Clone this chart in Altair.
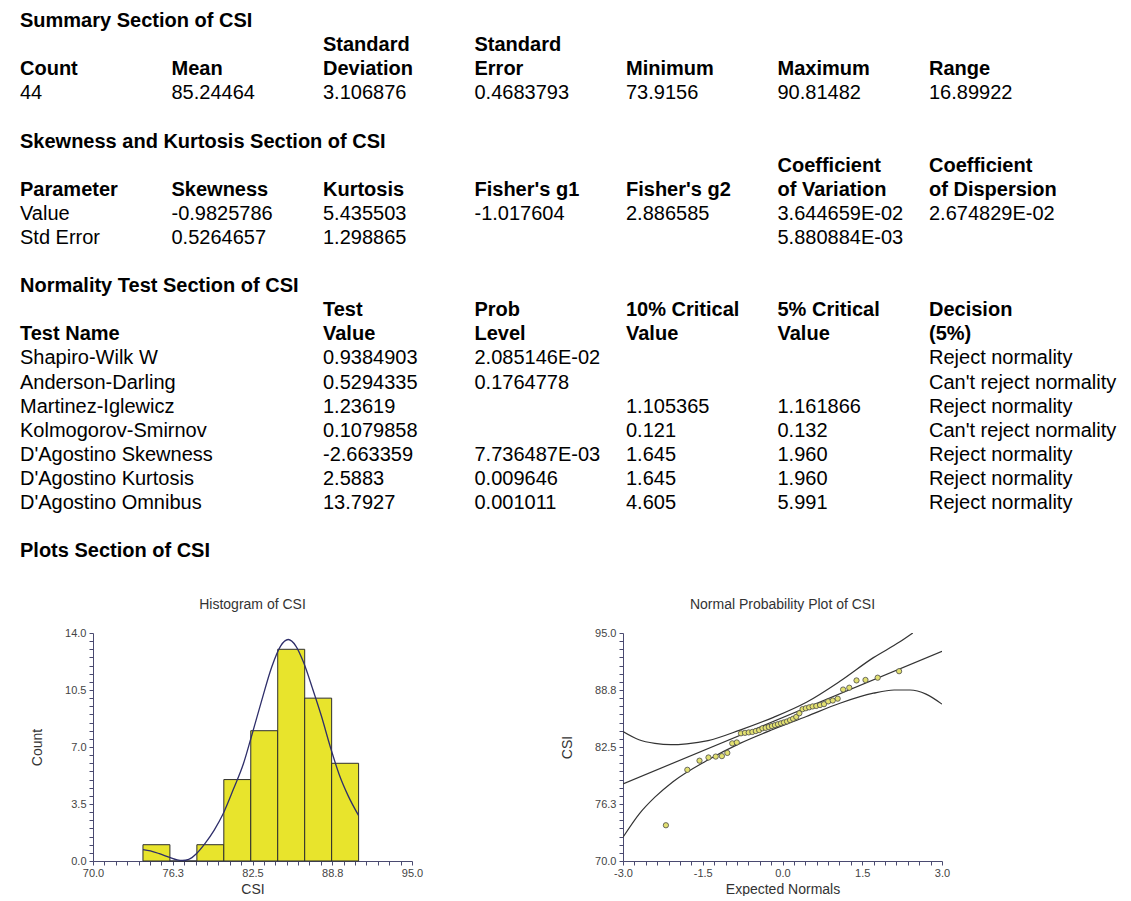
import json
import altair as alt
import pandas as pd

FONT = "Liberation Sans"

# ---------------- report tables (text content) ----------------
summary_title = "Summary Section of CSI"
summary_head1 = ["", "", "Standard", "Standard", "", "", ""]
summary_head2 = ["Count", "Mean", "Deviation", "Error", "Minimum", "Maximum", "Range"]
summary_vals = ["44", "85.24464", "3.106876", "0.4683793", "73.9156", "90.81482", "16.89922"]

skew_title = "Skewness and Kurtosis Section of CSI"
skew_head1 = ["", "", "", "", "", "Coefficient", "Coefficient"]
skew_head2 = ["Parameter", "Skewness", "Kurtosis", "Fisher's g1", "Fisher's g2", "of Variation", "of Dispersion"]
skew_row_value = ["Value", "-0.9825786", "5.435503", "-1.017604", "2.886585", "3.644659E-02", "2.674829E-02"]
skew_row_se = ["Std Error", "0.5264657", "1.298865", "", "", "5.880884E-03", ""]

norm_title = "Normality Test Section of CSI"
norm_cols = [0, 2, 3, 4, 5, 6]
norm_head1 = ["", "Test", "Prob", "10% Critical", "5% Critical", "Decision"]
norm_head2 = ["Test Name", "Value", "Level", "Value", "Value", "(5%)"]
test_names = ["Shapiro-Wilk W", "Anderson-Darling", "Martinez-Iglewicz", "Kolmogorov-Smirnov",
              "D'Agostino Skewness", "D'Agostino Kurtosis", "D'Agostino Omnibus"]
test_values = ["0.9384903", "0.5294335", "1.23619", "0.1079858", "-2.663359", "2.5883", "13.7927"]
prob_levels = ["2.085146E-02", "0.1764778", "", "", "7.736487E-03", "0.009646", "0.001011"]
crit10 = ["", "", "1.105365", "0.121", "1.645", "1.645", "4.605"]
crit5 = ["", "", "1.161866", "0.132", "1.960", "1.960", "5.991"]
decisions = ["Reject normality", "Can't reject normality", "Reject normality", "Can't reject normality",
             "Reject normality", "Reject normality", "Reject normality"]

plots_title = "Plots Section of CSI"

# ---------------- histogram data ----------------
bin_edges = [73.9156, 76.0280, 78.1404, 80.2528, 82.3652, 84.4776, 86.5900, 88.7024, 90.8148]
bin_counts = [1, 0, 1, 5, 8, 13, 10, 6]
curve_x = [73.92, 74.5, 75.2, 76.0, 76.6, 77.0, 77.5, 78.1, 78.8, 79.5, 80.2, 81.0, 81.8, 82.4,
           83.2, 84.0, 84.7, 85.3, 85.9, 86.5, 87.2, 87.9, 88.6, 89.3, 90.0, 90.81]
curve_y = [0.70, 0.62, 0.45, 0.22, 0.07, 0.03, 0.10, 0.45, 1.1, 1.9, 2.9, 4.4, 6.0, 7.6,
           9.8, 11.9, 13.2, 13.6, 13.2, 12.2, 10.6, 8.9, 7.0, 5.3, 4.0, 2.8]

# ---------------- normal probability plot data ----------------
expected_normals = [-2.193, -1.790, -1.561, -1.392, -1.256, -1.140, -1.038, -0.945, -0.860, -0.781,
                    -0.706, -0.635, -0.567, -0.502, -0.439, -0.377, -0.317, -0.258, -0.199, -0.142,
                    -0.085, -0.028, 0.028, 0.085, 0.142, 0.199, 0.258, 0.317, 0.377, 0.439,
                    0.502, 0.567, 0.635, 0.706, 0.781, 0.860, 0.945, 1.038, 1.140, 1.256,
                    1.392, 1.561, 1.790, 2.193]
csi_sorted = [73.92, 80.0, 81.0, 81.35, 81.45, 81.5, 81.85, 82.9, 83.0, 84.0,
              84.05, 84.1, 84.15, 84.25, 84.35, 84.55, 84.6, 84.7, 84.8, 84.9,
              85.0, 85.1, 85.2, 85.3, 85.45, 85.6, 85.8, 86.2, 86.65, 86.75,
              86.85, 86.95, 87.0, 87.1, 87.2, 87.5, 87.6, 87.8, 88.8, 89.0,
              89.8, 89.85, 90.1, 90.81]
ref_x = [-3.0, 3.0]
ref_y = [78.45, 93.0]
upper_x = [-3.0, -2.7, -2.4, -2.1, -1.8, -1.4, -0.8, -0.17, 0.45, 1.08, 1.71, 2.2, 2.45]
upper_y = [84.2, 83.3, 82.9, 82.75, 82.85, 83.2, 84.35, 85.75, 87.4, 89.7, 92.3, 94.0, 95.0]
lower_x = [-3.0, -2.69, -2.4, -2.06, -1.43, -0.8, -0.17, 0.45, 1.08, 1.71, 2.1, 2.4, 2.7, 3.0]
lower_y = [72.6, 75.2, 77.0, 78.7, 81.0, 82.9, 84.45, 85.85, 87.3, 88.4, 88.75, 88.75, 88.3, 87.2]

# axis ticks
hist_x_major = [70.0, 76.25, 82.5, 88.75, 95.0]
hist_x_labels = ["70.0", "76.3", "82.5", "88.8", "95.0"]
hist_y_major = [0.0, 3.5, 7.0, 10.5, 14.0]
hist_y_labels = ["0.0", "3.5", "7.0", "10.5", "14.0"]
norm_x_major = [-3.0, -1.5, 0.0, 1.5, 3.0]
norm_x_labels = ["-3.0", "-1.5", "0.0", "1.5", "3.0"]
norm_y_major = [70.0, 76.25, 82.5, 88.75, 95.0]
norm_y_labels = ["70.0", "76.3", "82.5", "88.8", "95.0"]

# ---------------- layout constants ----------------
COL0 = -73.0      # x of first table column relative to histogram plot origin
COLW = 151.5
LINE0 = 10.0
LINEH = 24.1
TABLE_H = 560
GAP_V = 62
PLOT_W = 319
PLOT_H = 228
GAP_H = 211
AXIS_COLOR = "#4A4A70"
LABEL_COLOR = "#444444"
TITLE_COLOR = "#333333"

# ---------------- build table records ----------------
bold_rows, plain_rows = [], []


def add(rows, cols, line, texts):
    for c, t in zip(cols, texts):
        if t:
            rows.append({"col": c, "line": line, "text": t})


all7 = list(range(7))
add(bold_rows, [0], 0, [summary_title])
add(bold_rows, all7, 1, summary_head1)
add(bold_rows, all7, 2, summary_head2)
add(plain_rows, all7, 3, summary_vals)
add(bold_rows, [0], 5, [skew_title])
add(bold_rows, all7, 6, skew_head1)
add(bold_rows, all7, 7, skew_head2)
add(plain_rows, all7, 8, skew_row_value)
add(plain_rows, all7, 9, skew_row_se)
add(bold_rows, [0], 11, [norm_title])
add(bold_rows, norm_cols, 12, norm_head1)
add(bold_rows, norm_cols, 13, norm_head2)
for i in range(len(test_names)):
    add(plain_rows, norm_cols, 14 + i,
        [test_names[i], test_values[i], prob_levels[i], crit10[i], crit5[i], decisions[i]])
add(bold_rows, [0], 22, [plots_title])

xs_tab = alt.Scale(domain=[0, 6], range=[COL0, COL0 + 6 * COLW])
ys_tab = alt.Scale(domain=[0, 22], range=[LINE0, LINE0 + 22 * LINEH])


def text_layer(rows, weight):
    return alt.Chart(pd.DataFrame(rows)).mark_text(
        align="left", baseline="middle", font=FONT, fontSize=20, fontWeight=weight, color="#000000"
    ).encode(
        x=alt.X("col:Q", scale=xs_tab, axis=None),
        y=alt.Y("line:Q", scale=ys_tab, axis=None),
        text="text:N",
    )


tables = alt.layer(text_layer(bold_rows, "bold"), text_layer(plain_rows, "normal")).properties(
    width=900, height=TABLE_H
)


# ---------------- axes helpers ----------------
def ticks_with_minor(majors, n=7):
    vals = []
    for a, b in zip(majors[:-1], majors[1:]):
        vals.append(a)
        for j in range(1, n):
            vals.append(round(a + (b - a) * j / n, 6))
    vals.append(majors[-1])
    return vals


def make_axis(majors, labels, title, orient, title_pad):
    expr = f"{json.dumps(labels)}[indexof({json.dumps(majors)}, datum.value)] || ''"
    return alt.Axis(
        values=ticks_with_minor(majors), labelExpr=expr, title=title, orient=orient,
        grid=False, tickSize=4, tickWidth=1, tickColor=AXIS_COLOR, domainColor=AXIS_COLOR,
        domainWidth=1, labelFont=FONT, labelFontSize=11, labelColor=LABEL_COLOR,
        labelPadding=2 if orient == "bottom" else 3, labelFlush=False, labelOverlap=False,
        labelBound=False, titleFont=FONT, titleFontSize=14, titleFontWeight="normal",
        titleColor=TITLE_COLOR, titlePadding=title_pad,
    )


def plot_title(txt):
    return alt.TitleParams(txt, font=FONT, fontSize=14, fontWeight="normal", color=TITLE_COLOR,
                           anchor="middle", baseline="bottom", offset=1)


# ---------------- histogram ----------------
hx_scale = alt.Scale(domain=[70, 95], nice=False, zero=False, padding=0)
hy_scale = alt.Scale(domain=[0, 14], nice=False, padding=0)
hx_axis = make_axis(hist_x_major, hist_x_labels, "CSI", "bottom", 4)
hy_axis = make_axis(hist_y_major, hist_y_labels, "Count", "left", 20)

hist_df = pd.DataFrame({"start": bin_edges[:-1], "end": bin_edges[1:], "count": bin_counts})
curve_df = pd.DataFrame({"x": curve_x, "y": curve_y})

bars = alt.Chart(hist_df).mark_bar(fill="#E8E42C", stroke="#2E2E2E", strokeWidth=1).encode(
    x=alt.X("start:Q", scale=hx_scale, axis=hx_axis),
    x2="end:Q",
    y=alt.Y("count:Q", scale=hy_scale, axis=hy_axis),
    y2=alt.datum(0),
)
curve = alt.Chart(curve_df).mark_line(color="#2E2E6A", strokeWidth=1.3, interpolate="monotone").encode(
    x=alt.X("x:Q", scale=hx_scale, axis=hx_axis),
    y=alt.Y("y:Q", scale=hy_scale, axis=hy_axis),
)
hist = alt.layer(bars, curve).properties(width=PLOT_W, height=PLOT_H, title=plot_title("Histogram of CSI"))

# ---------------- normal probability plot ----------------
nx_scale = alt.Scale(domain=[-3, 3], nice=False, zero=False)
ny_scale = alt.Scale(domain=[70, 95], nice=False, zero=False)
nx_axis = make_axis(norm_x_major, norm_x_labels, "Expected Normals", "bottom", 4)
ny_axis = make_axis(norm_y_major, norm_y_labels, "CSI", "left", 20)


def norm_line(xs, ys):
    return alt.Chart(pd.DataFrame({"x": xs, "y": ys})).mark_line(
        color="#333333", strokeWidth=1.2, interpolate="monotone", clip=True
    ).encode(
        x=alt.X("x:Q", scale=nx_scale, axis=nx_axis),
        y=alt.Y("y:Q", scale=ny_scale, axis=ny_axis),
    )


pts = alt.Chart(pd.DataFrame({"x": expected_normals, "y": csi_sorted})).mark_point(
    shape="circle", filled=True, size=28, fill="#E2E070", stroke="#4A4A4A", strokeWidth=0.8, opacity=1
).encode(
    x=alt.X("x:Q", scale=nx_scale, axis=nx_axis),
    y=alt.Y("y:Q", scale=ny_scale, axis=ny_axis),
)

normal = alt.layer(
    norm_line(upper_x, upper_y), norm_line(lower_x, lower_y), norm_line(ref_x, ref_y), pts
).properties(width=PLOT_W, height=PLOT_H, title=plot_title("Normal Probability Plot of CSI"))

plots = alt.hconcat(hist, normal, spacing=GAP_H, bounds="flush")

chart = alt.vconcat(tables, plots, spacing=GAP_V, bounds="flush").properties(
    padding={"left": 12, "top": 3, "right": 0, "bottom": 0}, background="white"
).configure_view(strokeWidth=0)

chart.save("out.html", embed_options={"renderer": "svg", "actions": False})
